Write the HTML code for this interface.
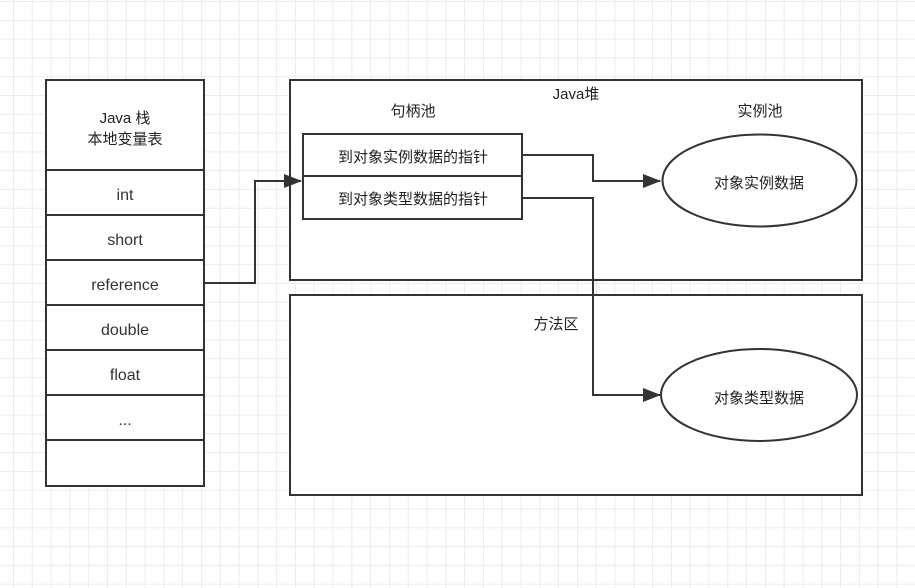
<!DOCTYPE html>
<html><head><meta charset="utf-8"><style>
html,body{margin:0;padding:0;}
body{width:915px;height:588px;overflow:hidden;background:#fff;
background-image:linear-gradient(#ececec 1px,transparent 1px),linear-gradient(90deg,#ececec 1px,transparent 1px);
background-size:18.8px 18.8px;background-position:13px 1px;}
svg{position:absolute;left:0;top:0;}
text{font-family:"Liberation Sans","Noto Sans CJK SC",sans-serif;font-size:15px;fill:#222;text-anchor:middle;}
.l{font-size:16px;fill:#333;}
</style></head><body>
<svg width="915" height="588" viewBox="0 0 915 588">
<defs><marker id="a" markerWidth="18" markerHeight="14" refX="17" refY="7" orient="auto" markerUnits="userSpaceOnUse"><path d="M0,0 L18,7 L0,14 Z" fill="#333"/></marker></defs>
<g stroke="#333" stroke-width="2" fill="#fff">
<rect x="46" y="80" width="158" height="406"/>
<line x1="46" y1="170" x2="204" y2="170"/>
<line x1="46" y1="215" x2="204" y2="215"/>
<line x1="46" y1="260" x2="204" y2="260"/>
<line x1="46" y1="305" x2="204" y2="305"/>
<line x1="46" y1="350" x2="204" y2="350"/>
<line x1="46" y1="395" x2="204" y2="395"/>
<line x1="46" y1="440" x2="204" y2="440"/>
<rect x="290" y="80" width="572" height="200"/>
<rect x="290" y="295" width="572" height="200"/>
<rect x="303" y="134" width="219" height="42"/>
<rect x="303" y="176" width="219" height="43"/>
<ellipse cx="759.5" cy="180.5" rx="97" ry="46"/>
<ellipse cx="759" cy="395" rx="98" ry="46"/>
</g>
<g stroke="#333" stroke-width="2" fill="none">
<polyline points="205,283 255,283 255,181 301,181" marker-end="url(#a)"/>
<polyline points="523,155 593,155 593,181 660,181" marker-end="url(#a)"/>
<polyline points="523,198 593,198 593,395 660,395" marker-end="url(#a)"/>
</g>
<text x="125" y="123">Java 栈</text>
<text x="125" y="144">本地变量表</text>
<text class="l" x="125" y="200">int</text>
<text class="l" x="125" y="245">short</text>
<text class="l" x="125" y="290">reference</text>
<text class="l" x="125" y="335">double</text>
<text class="l" x="125" y="380">float</text>
<text class="l" x="125" y="425">...</text>
<text x="576" y="99">Java堆</text>
<text x="413" y="116">句柄池</text>
<text x="760" y="116">实例池</text>
<text x="413" y="162">到对象实例数据的指针</text>
<text x="413" y="204">到对象类型数据的指针</text>
<text x="759" y="188">对象实例数据</text>
<text x="759" y="403">对象类型数据</text>
<text x="556" y="329">方法区</text>
</svg>
</body></html>
